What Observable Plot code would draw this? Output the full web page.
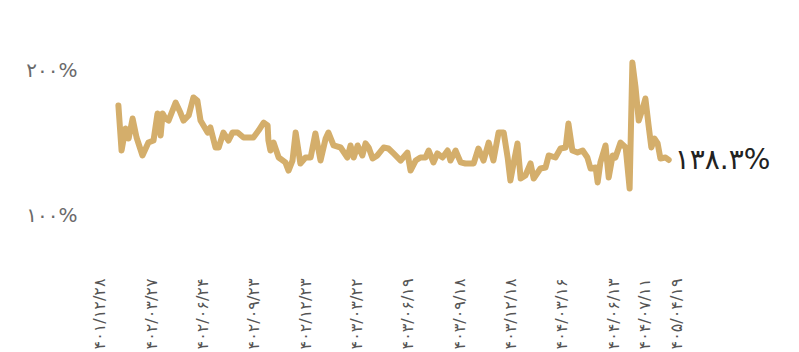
<!DOCTYPE html>
<html>
<head>
<meta charset="utf-8">
<script src="https://cdn.jsdelivr.net/npm/d3@7"></script>
<script src="https://cdn.jsdelivr.net/npm/@observablehq/plot@0.6"></script>
<style>
  html, body { margin: 0; padding: 0; background: #fff; overflow: hidden; }
  svg { overflow: visible; font-family: "DejaVu Sans", sans-serif; }
</style>
</head>
<body>
<div id="chart"></div>
<script>
// Weeks since the first observation (x) and ratio in percent (y)
const weeks = [
  0.1, 0.9, 1.9, 2.7, 3.7, 4.7, 6.2, 7.7, 9.0, 10.0, 10.8, 11.3, 12.0, 12.8, 14.6, 15.8, 16.6, 17.9,
  19.1, 20.1, 20.9, 22.7, 23.4, 24.7, 25.5, 26.7, 28.0, 29.0, 30.3, 31.8, 34.3, 35.6, 36.9, 37.9,
  38.1, 38.6, 39.4, 40.7, 42.4, 43.2, 44.2, 45.0, 46.2, 47.5, 48.8, 50.0, 51.3, 52.6, 53.3, 54.6,
  56.4, 58.1, 58.9, 59.7, 60.7, 61.9, 62.7, 63.5, 64.5, 65.7, 67.3, 68.5, 69.8, 71.6, 73.3, 74.1,
  75.4, 76.6, 77.9, 78.7, 79.9, 80.9, 82.2, 83.5, 84.2, 85.5, 86.8, 88.0, 90.1, 91.3, 92.6, 93.9,
  95.1, 96.4, 97.7, 98.7, 99.4, 100.2, 101.2, 102.0, 103.2, 104.5, 105.3, 107.0, 108.3, 109.1,
  110.8, 112.1, 113.4, 114.1, 115.1, 116.4, 117.7, 118.9, 119.7, 121.0, 121.5, 122.2, 123.5,
  124.3, 125.3, 126.0, 127.3, 128.6, 129.6, 130.3, 131.1, 131.9, 132.9, 133.6, 134.4, 135.1,
  135.9, 136.7, 137.4, 138.7, 139.5
];
const values = [
  175.9, 144.8, 160.0, 153.1, 166.9, 153.8, 141.4, 150.3, 151.7, 170.3, 155.2, 170.3, 166.9, 165.5,
  177.9, 171.0, 165.5, 169.0, 181.4, 179.3, 165.5, 157.2, 160.7, 146.9, 146.9, 157.2, 151.7, 157.2,
  157.2, 153.8, 153.8, 158.6, 164.1, 162.1, 151.7, 144.8, 150.3, 140.0, 136.6, 131.0, 137.9, 157.2,
  135.9, 140.0, 140.0, 156.6, 137.9, 153.1, 157.2, 148.3, 146.9, 140.0, 148.3, 140.0, 148.3, 141.4,
  149.7, 146.9, 139.3, 141.4, 146.9, 146.2, 142.8, 137.9, 143.4, 131.0, 137.9, 140.0, 140.0, 144.8,
  136.6, 142.8, 140.0, 144.8, 137.9, 144.8, 136.6, 135.9, 135.9, 146.2, 137.9, 150.3, 137.9, 157.2,
  157.2, 140.0, 124.1, 135.9, 149.7, 125.5, 127.6, 135.9, 125.5, 132.4, 133.1, 141.4, 140.0, 146.2,
  146.9, 163.4, 144.8, 143.4, 144.8, 140.0, 132.4, 133.1, 122.8, 136.6, 148.3, 126.2, 141.4, 140.0,
  150.3, 146.9, 118.6, 205.5, 188.3, 165.5, 173.8, 180.7, 162.1, 146.9, 153.1, 149.7, 139.3, 140.0,
  138.3
];
const tickWeeks = [-4.5, 8.5, 21.5, 34.5, 47.5, 60.5, 73.5, 86.5, 99.5, 112.5, 125.5, 133.5, 141.5];
const tickLabels = [
  "۱۴۰۱/۱۲/۲۸", "۱۴۰۲/۰۳/۲۷", "۱۴۰۲/۰۶/۲۴", "۱۴۰۲/۰۹/۲۳", "۱۴۰۲/۱۲/۲۳", "۱۴۰۳/۰۳/۲۲",
  "۱۴۰۳/۰۶/۱۹", "۱۴۰۳/۰۹/۱۸", "۱۴۰۳/۱۲/۱۸", "۱۴۰۴/۰۳/۱۶", "۱۴۰۴/۰۶/۱۳", "۱۴۰۴/۰۷/۱۱",
  "۱۴۰۵/۰۴/۱۹"
];
const yTicks = [100, 200];
const yTickLabels = ["۱۰۰%", "۲۰۰%"];
const lastLabel = "۱۳۸.۳%";

const data = weeks.map((w, i) => ({w, v: values[i]}));
const last = data[data.length - 1];
const xLabel = new Map(tickWeeks.map((t, i) => [t, tickLabels[i]]));
const yLabel = new Map(yTicks.map((t, i) => [t, yTickLabels[i]]));

const chart = Plot.plot({
  width: 799,
  height: 400,
  marginLeft: 80,
  marginRight: 40,
  marginTop: 55.5,
  marginBottom: 127,
  style: {fontFamily: "DejaVu Sans, sans-serif", background: "#fff"},
  x: {domain: [-9.5, 162.5]},
  y: {domain: [60, 210]},
  marks: [
    Plot.axisY({ticks: yTicks, tickFormat: d => yLabel.get(d), tickSize: 0, tickPadding: 3,
      fontSize: 20, fill: "#6a6a6a", label: null}),
    Plot.axisX({ticks: tickWeeks, tickFormat: d => xLabel.get(d), tickRotate: -90, tickSize: 0,
      tickPadding: 5, fontSize: 16, fill: "#555", label: null}),
    Plot.line(data, {x: "w", y: "v", stroke: "#d4ae6b", strokeWidth: 6,
      strokeLinejoin: "round", strokeLinecap: "round"}),
    Plot.text([last], {x: "w", y: "v", text: () => lastLabel, textAnchor: "start", dx: 6,
      fontSize: 28, fill: "#222"})
  ]
});
document.getElementById("chart").appendChild(chart);
</script>
</body>
</html>
